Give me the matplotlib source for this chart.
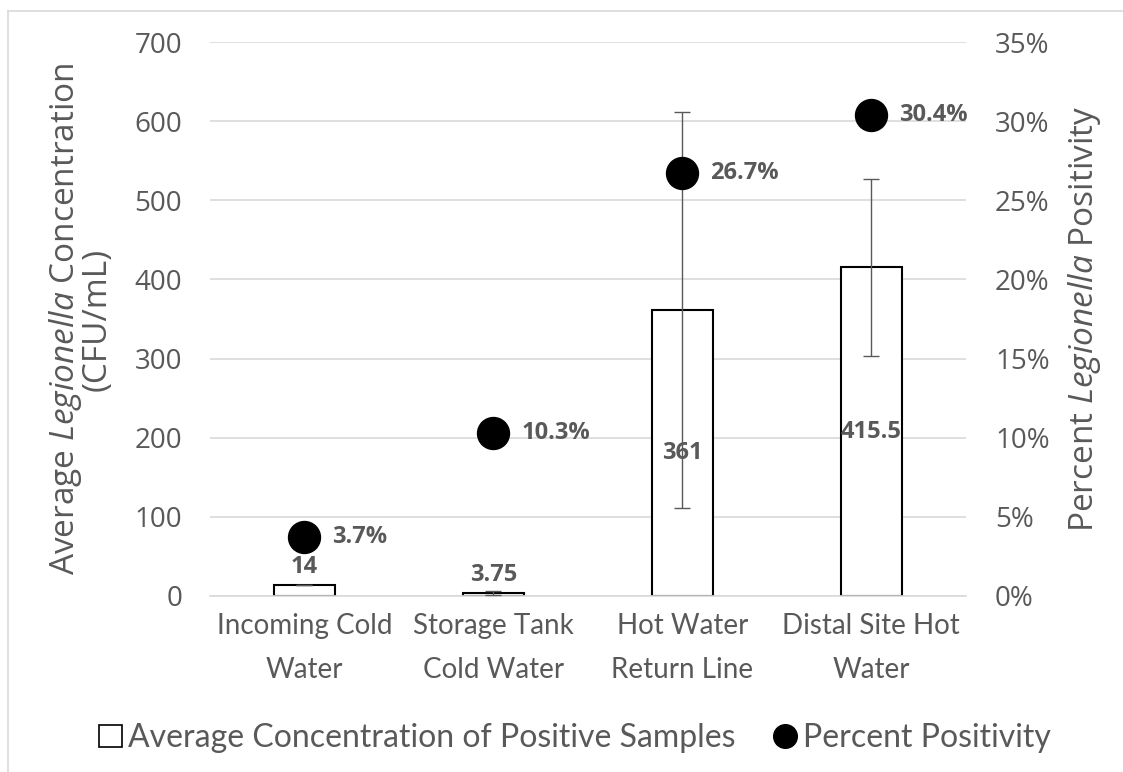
import matplotlib.pyplot as plt
from matplotlib.lines import Line2D
from matplotlib.patches import Patch
from matplotlib.ticker import FuncFormatter, MultipleLocator

plt.rcParams["font.family"] = ["Open Sans", "DejaVu Sans"]
plt.rcParams["mathtext.fontset"] = "custom"
plt.rcParams["mathtext.it"] = "Open Sans:italic"
plt.rcParams["mathtext.rm"] = "Open Sans"

# data
categories = ["Incoming Cold\nWater", "Storage Tank\nCold Water",
              "Hot Water\nReturn Line", "Distal Site Hot\nWater"]
avg_conc = [14, 3.75, 361, 415.5]
conc_err = [0, 2.5, 250, 112]
conc_labels = ["14", "3.75", "361", "415.5"]
pct_pos = [3.7, 10.3, 26.7, 30.4]

GREY = "#595959"
GRID = "#d9d9d9"

fig = plt.figure(figsize=(11.23, 7.72), dpi=100)
ax = fig.add_axes([0.187, 0.228, 0.673, 0.7175])
ax2 = ax.twinx()

x = list(range(len(categories)))
ax.bar(x, avg_conc, width=0.32, color="white", edgecolor="black",
       linewidth=1.5, zorder=2)
ax.errorbar(x, avg_conc, yerr=conc_err, fmt="none", ecolor=GREY,
            elinewidth=1.0, capsize=6, capthick=1.0, zorder=3)

for xi, v, lab in zip(x, avg_conc, conc_labels):
    # small bars get the label above, tall bars in the middle
    if v < 50:
        ax.text(xi, v + 8, lab, ha="center", va="bottom", color=GREY,
                fontsize=17, fontweight="bold", zorder=4)
    else:
        ax.text(xi, v / 2, lab, ha="center", va="center", color=GREY,
                fontsize=17, fontweight="bold", zorder=4)

ax2.plot(x, pct_pos, "o", color="black", markersize=23, zorder=5)
for xi, p in zip(x, pct_pos):
    ax2.annotate(f"{p:.1f}%", (xi, p), xytext=(20, 0),
                 textcoords="offset points", va="center", ha="left",
                 color=GREY, fontsize=17, fontweight="bold")

ax.set_xlim(-0.5, 3.5)
ax.set_ylim(0, 700)
ax2.set_ylim(0, 35)
ax.yaxis.set_major_locator(MultipleLocator(100))
ax2.yaxis.set_major_locator(MultipleLocator(5))
ax2.yaxis.set_major_formatter(FuncFormatter(lambda v, _: f"{v:.0f}%"))

ax.set_xticks(x)
ax.set_xticklabels(categories, fontsize=20, color=GREY, linespacing=1.85,
                   family=["Lato", "DejaVu Sans"])
ax.grid(axis="y", color=GRID, linewidth=1.2, zorder=0)
ax.set_axisbelow(True)
for a in (ax, ax2):
    for s in a.spines.values():
        s.set_visible(False)
    a.tick_params(length=0, labelsize=20, labelcolor=GREY)
ax.spines["bottom"].set_visible(True)
ax.spines["bottom"].set_color(GRID)
ax.spines["bottom"].set_linewidth(1.2)
ax.tick_params(axis="y", pad=20)
ax.tick_params(axis="x", pad=12)
ax2.tick_params(axis="y", pad=21)

ax.set_ylabel("Average $\\mathit{Legionella}$ Concentration\n(CFU/mL)",
              fontsize=24, color=GREY, labelpad=15, linespacing=0.85)
ax2.set_ylabel("Percent $\\mathit{Legionella}$ Positivity", fontsize=24,
               color=GREY, labelpad=12)

handles = [Patch(facecolor="white", edgecolor="black", linewidth=1.2),
           Line2D([], [], marker="o", color="black", linestyle="none",
                  markersize=17)]
fig.legend(handles, ["Average Concentration of Positive Samples",
                     "Percent Positivity"],
           loc="center", bbox_to_anchor=(0.512, 0.044), ncol=2, frameon=False,
           prop={"family": ["Lato", "DejaVu Sans"], "size": 23},
           labelcolor=GREY, handlelength=0.7, handletextpad=0.2,
           columnspacing=1.2)

# chart-area border (left and top edges visible in the reference)
fig.add_artist(Line2D([0.007, 0.007], [0, 0.986], color=GRID, lw=1.2,
                      transform=fig.transFigure))
fig.add_artist(Line2D([0.007, 1], [0.986, 0.986], color=GRID, lw=1.2,
                      transform=fig.transFigure))

fig.savefig("out.png", dpi=100)
